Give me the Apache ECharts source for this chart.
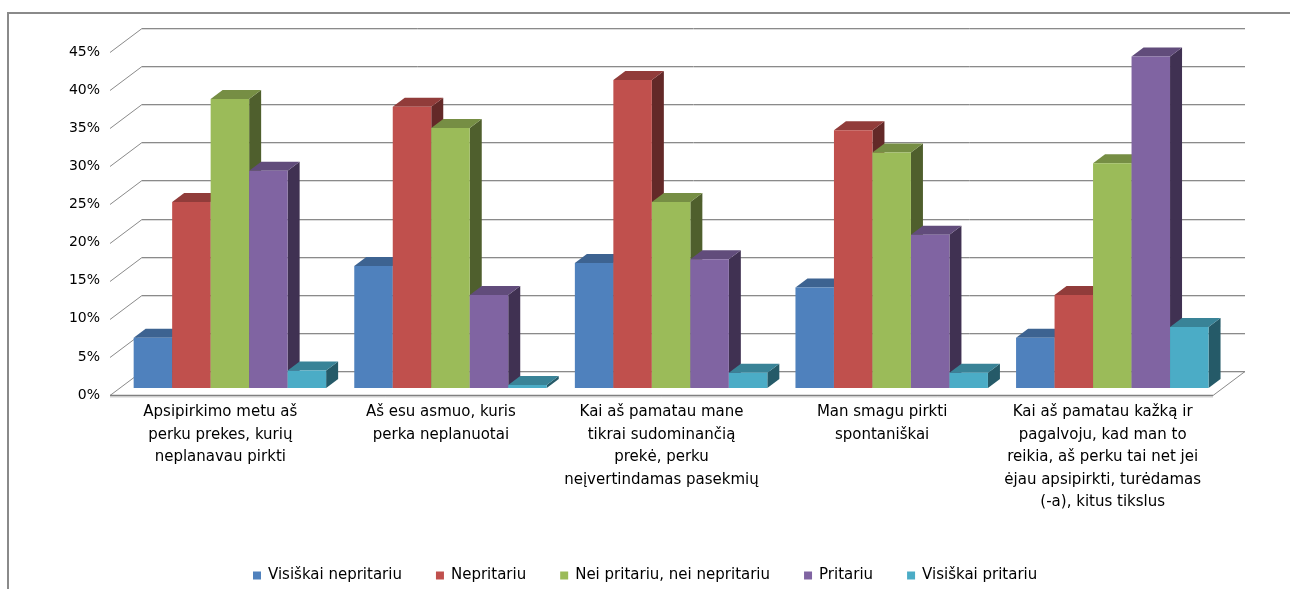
<!DOCTYPE html>
<html>
<head>
<meta charset="utf-8">
<script src="https://cdn.jsdelivr.net/npm/echarts@6/dist/echarts.min.js"></script>
<style>html,body{margin:0;padding:0;background:#fff}#c{width:1290px;height:589px}</style>
</head>
<body>
<div id="c"></div>
<script>
const categories = [
  'Apsipirkimo metu aš\nperku prekes, kurių\nneplanavau pirkti',
  'Aš esu asmuo, kuris\nperka neplanuotai',
  'Kai aš pamatau mane\ntikrai sudominančią\nprekė, perku\nneįvertindamas pasekmių',
  'Man smagu pirkti\nspontaniškai',
  'Kai aš pamatau kažką ir\npagalvoju, kad man to\nreikia, aš perku tai net jei\nėjau apsipirkti, turėdamas\n(-a), kitus tikslus'
];
const seriesNames = ['Visiškai nepritariu', 'Nepritariu', 'Nei pritariu, nei nepritariu', 'Pritariu', 'Visiškai pritariu'];
const visiskaiNepritariu = [6.6, 16.0, 16.4, 13.2, 6.6];
const nepritariu = [24.4, 36.9, 40.4, 33.8, 12.2];
const neiPritariuNeiNepritariu = [37.9, 34.1, 24.4, 30.9, 29.5];
const pritariu = [28.5, 12.2, 16.9, 20.1, 43.5];
const visiskaiPritariu = [2.3, 0.4, 2.0, 2.0, 8.0];
const yTicks = [0, 5, 10, 15, 20, 25, 30, 35, 40, 45];

const seriesValues = [visiskaiNepritariu, nepritariu, neiPritariuNeiNepritariu, pritariu, visiskaiPritariu];
const palette = [
  {front: '#4F81BD', top: '#3D6391', side: '#2C4A70'},
  {front: '#C0504D', top: '#913C3A', side: '#632928'},
  {front: '#9BBB59', top: '#768E44', side: '#4F5F2D'},
  {front: '#8064A2', top: '#614C7B', side: '#403152'},
  {front: '#4BACC6', top: '#398397', side: '#255A68'}
];

const FONT = 'DejaVu Sans';
// oblique projection of the depth axis
const WALL_DX = 32, WALL_DY = -24;    // full depth of the floor
const PLANE_DX = 9.6, PLANE_DY = -7;  // bar front plane
const BAR_DX = 12, BAR_DY = -9;       // bar depth
const BAR_FRAC = 0.1745;              // bar width as fraction of category band

function frameRender(params, api) {
  const cs = params.coordSys;
  const v = api.value(1);
  const p = api.coord([0, v]);
  const y = Math.round(p[1]) + 0.5;
  const xl = cs.x, xr = cs.x + cs.width;
  const children = [];
  // back wall gridline (with soft shadow)
  children.push({type: 'line', shape: {x1: xl + WALL_DX, y1: y + WALL_DY + 1, x2: xr + WALL_DX, y2: y + WALL_DY + 1}, style: {stroke: '#dcdcdc', lineWidth: 1}});
  children.push({type: 'line', shape: {x1: xl + WALL_DX, y1: y + WALL_DY, x2: xr + WALL_DX, y2: y + WALL_DY}, style: {stroke: '#8a8a8a', lineWidth: 1}});
  // side wall diagonal
  children.push({type: 'line', shape: {x1: xl, y1: y, x2: xl + WALL_DX, y2: y + WALL_DY}, style: {stroke: '#8a8a8a', lineWidth: 1}});
  if (v === 0) {
    children.push({type: 'line', shape: {x1: xl, y1: y + 1.5, x2: xr, y2: y + 1.5}, style: {stroke: '#d0d0d0', lineWidth: 1}});
    children.push({type: 'line', shape: {x1: xl, y1: y, x2: xr, y2: y}, style: {stroke: '#808080', lineWidth: 1.5}});
    children.push({type: 'line', shape: {x1: xr, y1: y, x2: xr + WALL_DX, y2: y + WALL_DY}, style: {stroke: '#8a8a8a', lineWidth: 1}});
  }
  return {type: 'group', children};
}

function barRender(sIdx, nS) {
  return function (params, api) {
    const ci = api.value(0);
    const v = api.value(1);
    const c = api.coord([ci, v]);
    const b = api.coord([ci, 0]);
    const band = api.size([1, 0])[0];
    const bw = band * BAR_FRAC;
    const cx = c[0] + PLANE_DX;
    const x0 = cx - nS * bw / 2 + sIdx * bw;
    const x1 = x0 + bw;
    const yT = c[1] + PLANE_DY;
    const yB = b[1] + PLANE_DY;
    const col = palette[sIdx];
    return {
      type: 'group',
      children: [
        {type: 'polygon', shape: {points: [[x1, yT], [x1 + BAR_DX, yT + BAR_DY], [x1 + BAR_DX, yB + BAR_DY], [x1, yB]]}, style: {fill: col.side}},
        {type: 'polygon', shape: {points: [[x0, yT], [x1, yT], [x1 + BAR_DX, yT + BAR_DY], [x0 + BAR_DX, yT + BAR_DY]]}, style: {fill: col.top}},
        {type: 'rect', shape: {x: x0, y: yT, width: bw, height: yB - yT}, style: {fill: col.front}}
      ]
    };
  };
}

const series = [{
  type: 'custom',
  name: '_frame',
  renderItem: frameRender,
  data: yTicks.map(t => [0, t]),
  z: 1,
  silent: true
}];
seriesValues.forEach((vals, s) => {
  series.push({
    type: 'custom',
    name: seriesNames[s],
    renderItem: barRender(s, seriesValues.length),
    itemStyle: {color: palette[s].front},
    data: vals.map((v, i) => [i, v]),
    encode: {x: 0, y: 1},
    z: 2
  });
});

const chart = echarts.init(document.getElementById('c'), null, {renderer: 'canvas'});
chart.setOption({
  animation: false,
  backgroundColor: '#fff',
  graphic: [{
    type: 'rect', shape: {x: 8, y: 13, width: 1400, height: 700},
    style: {fill: 'none', stroke: '#8a8a8a', lineWidth: 2}, z: 0, silent: true
  }],
  legend: {
    data: seriesNames,
    left: 253, top: 568, padding: 0,
    icon: 'rect', itemWidth: 8, itemHeight: 8, itemGap: 34,
    textStyle: {fontFamily: FONT, fontSize: 15, color: '#000', padding: [0, 0, 0, 2]}
  },
  grid: {left: 110, right: 77, top: 52, bottom: 194, containLabel: false},
  xAxis: {
    type: 'category',
    data: categories,
    axisLine: {show: false}, axisTick: {show: false}, splitLine: {show: false},
    axisLabel: {interval: 0, fontFamily: FONT, fontSize: 15, lineHeight: 22.5, margin: 6, color: '#000'}
  },
  yAxis: {
    type: 'value', min: 0, max: 45, interval: 5,
    axisLine: {show: false}, axisTick: {show: false}, splitLine: {show: false},
    axisLabel: {formatter: '{value}%', fontFamily: FONT, fontSize: 14, margin: 10, color: '#000'}
  },
  series
});
</script>
</body>
</html>
